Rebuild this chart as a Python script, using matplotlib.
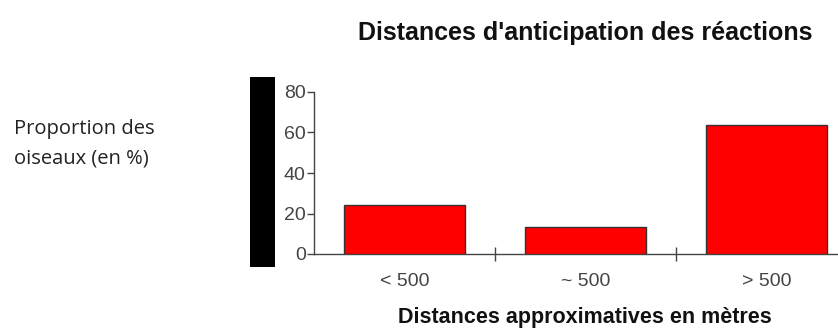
import matplotlib
matplotlib.use("Agg")
import matplotlib.pyplot as plt
from matplotlib.patches import Rectangle

# Data
categories = ["< 500", "~ 500", "> 500"]
proportions = [24, 13.5, 63.5]
y_ticks = [0, 20, 40, 60, 80]

W, H = 838, 329
fig = plt.figure(figsize=(W / 100, H / 100), dpi=100)
fig.patch.set_facecolor("white")

def fx(px):
    return px / W

def fy(py):
    return 1 - py / H

# axes: x from -0.5 to 2.5, y from 0 to 80
left, right = 314, 314 + 3 * 181
bottom, top = 254, 92
ax = fig.add_axes([fx(left), fy(bottom), fx(right - left), fy(top) - fy(bottom)])
ax.set_xlim(-0.5, 2.5)
ax.set_ylim(0, 80)
ax.patch.set_alpha(0)

ax.bar(range(len(categories)), proportions, width=0.67,
       color="#ff0000", edgecolor="#333333", linewidth=1.0, zorder=3)

for s in ["top", "right"]:
    ax.spines[s].set_visible(False)
for s in ["left", "bottom"]:
    ax.spines[s].set_color("#444444")
    ax.spines[s].set_linewidth(1.0)
ax.spines["bottom"].set_bounds(-0.5, 2.5)

tick_font = dict(family="Liberation Sans", size=14, color="#444444")
ax.set_yticks(y_ticks)
ax.set_yticklabels([str(v) for v in y_ticks], **tick_font)
ax.tick_params(axis="y", direction="out", length=5, width=1, color="#444444", pad=1)

ax.set_xticks(range(len(categories)))
ax.set_xticklabels(categories, **tick_font)
ax.tick_params(axis="x", which="major", length=0, pad=14)
ax.set_xticks([0.5, 1.5], minor=True)
ax.tick_params(axis="x", which="minor", direction="inout", length=10, width=1, color="#444444")

# black vertical band beside the y axis
fig.patches.append(Rectangle((fx(250), fy(267)), fx(25), fy(77) - fy(267),
                             transform=fig.transFigure, facecolor="black",
                             edgecolor="none"))

fig.text(fx(585), fy(33), "Distances d'anticipation des réactions",
         ha="center", va="center", family="Liberation Sans",
         fontweight="bold", fontsize=18, color="#111111")
fig.text(fx(585), fy(318), "Distances approximatives en mètres",
         ha="center", va="center", family="Liberation Sans",
         fontweight="bold", fontsize=15.5, color="#111111")
fig.text(fx(14), fy(144), "Proportion des\noiseaux (en %)",
         ha="left", va="center", family="Open Sans",
         fontsize=14.5, color="#222222", linespacing=1.65)

fig.savefig("out.png", dpi=100, facecolor="white")
